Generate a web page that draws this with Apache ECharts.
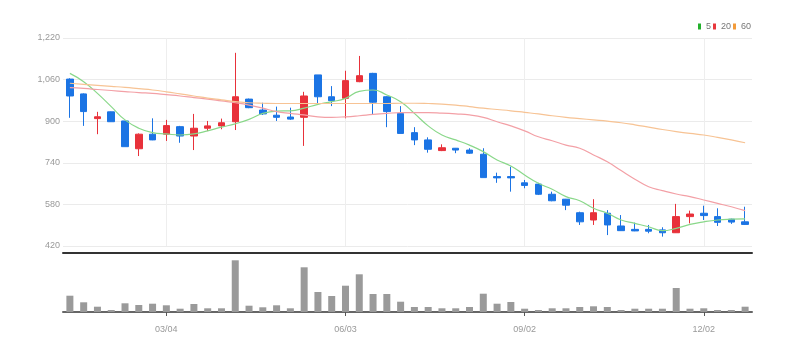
<!DOCTYPE html>
<html>
<head>
<meta charset="utf-8">
<script src="https://cdn.jsdelivr.net/npm/echarts@6/dist/echarts.min.js"></script>
<style>
  html, body { margin: 0; padding: 0; background: #fff; }
  #chart { width: 797px; height: 351px; }
</style>
</head>
<body>
<div id="chart"></div>
<script>
// 주간 시세 (2024-01-15 ~ 2024-12-23)
var weeks = ['01/15','01/22','01/29','02/05','02/12','02/19','02/26','03/04','03/11','03/18',
             '03/25','04/01','04/08','04/15','04/22','04/29','05/06','05/13','05/20','05/27',
             '06/03','06/10','06/17','06/24','07/01','07/08','07/15','07/22','07/29','08/05',
             '08/12','08/19','08/26','09/02','09/09','09/16','09/23','09/30','10/07','10/14',
             '10/21','10/28','11/04','11/11','11/18','11/25','12/02','12/09','12/16','12/23'];

var openPrice  = [1062,1005,910,936,901,794,850,850,879,843, 873,882,898,985,943,923,916,915,1078,994,
                  988,1052,1084,994,930,856,828,787,796,789, 773,687,687,663,658,619,600,548,520,546,
                  497,484,484,482,471,533,546,533,523,513];
var closePrice = [997,937,917,898,802,850,828,883,843,873, 882,894,994,952,928,915,908,997,994,979,
                  1056,1075,973,937,853,828,792,798,789,777, 683,682,682,653,619,594,577,513,548,501,
                  479,478,477,471,533,543,537,511,512,503];
var lowPrice   = [913,882,850,897,802,766,827,824,817,789, 862,869,866,950,924,901,905,805,969,958,
                  911,1050,924,877,853,808,779,785,777,774, 683,663,629,642,616,592,558,501,501,462,
                  478,477,469,456,470,507,520,497,505,501];
var highPrice  = [1065,1007,936,937,901,853,911,905,882,928, 901,910,1163,987,971,956,952,1013,1078,1035,
                  1094,1151,1086,996,958,877,838,811,797,796, 796,702,725,674,663,629,601,552,600,558,
                  539,510,501,492,582,556,575,565,525,571];

var volume = [326,194,106,40,174,140,166,134,66,160, 74,74,1034,126,94,134,74,894,400,320,
              526,754,360,360,206,100,100,74,74,100, 366,166,200,66,40,74,74,100,114,100,
              40,66,66,66,480,66,74,40,40,106];

// 이동평균
var ma5  = [1084,1052,1007,956,905,873,856,851,847,851, 863,877,890,907,930,939,940,950,965,975,
            988,1015,1020,1001,975,930,882,847,828,808, 783,751,728,693,661,638,610,594,565,546,
            520,507,494,479,488,503,513,520,523,524];
var ma20 = [1029,1026,1022,1018,1014,1010,1007,1002,997,991, 985,978,971,962,950,937,930,924,917,915,
            917,921,926,930,933,933,933,931,928,924, 915,898,882,863,840,825,808,796,770,744,
            710,677,648,633,620,610,597,584,571,556];
var ma60 = [1046,1042,1038,1034,1030,1025,1020,1013,1005,997, 989,982,975,971,969,968,968,968,968,968,
            968,968,968,968,969,969,968,966,962,956, 950,945,940,934,928,921,915,910,905,900,
            894,886,877,868,860,853,847,838,828,817];

var yTicks = [420, 580, 740, 900, 1060, 1220];
var labelWeeks = ['03/04','06/03','09/02','12/02'];

var candleData = weeks.map(function (w, i) {
    return [openPrice[i], closePrice[i], lowPrice[i], highPrice[i]];
});

var isLabel = function (idx, val) {
    return labelWeeks.indexOf(weeks[idx]) >= 0;
};

var font = "'Liberation Sans Narrow', 'Liberation Sans', sans-serif";

var myChart = echarts.init(document.getElementById('chart'));

myChart.setOption({
    animation: false,
    textStyle: { fontFamily: font },
    legend: {
        right: 41,
        top: 17,
        icon: 'rect',
        itemWidth: 3,
        itemHeight: 6,
        itemGap: 2,
        textStyle: { fontSize: 9, color: '#777', fontFamily: font },
        data: [
            { name: '5',  itemStyle: { color: '#22b02b', opacity: 1 } },
            { name: '20', itemStyle: { color: '#e8383d', opacity: 1 } },
            { name: '60', itemStyle: { color: '#f39b3a', opacity: 1 } }
        ]
    },
    grid: [
        { left: 63, right: 45, top: 38, height: 208 },
        { left: 63, right: 45, top: 253, height: 59 }
    ],
    xAxis: [
        {
            type: 'category',
            gridIndex: 0,
            data: weeks,
            boundaryGap: true,
            offset: 7,
            axisLine: { lineStyle: { color: '#333', width: 2 } },
            axisTick: { show: false, alignWithLabel: true },
            axisLabel: { show: false },
            splitLine: { show: true, interval: isLabel, alignWithLabel: true, lineStyle: { color: '#eee' } }
        },
        {
            type: 'category',
            gridIndex: 1,
            data: weeks,
            boundaryGap: true,
            axisLine: { lineStyle: { color: '#666', width: 2 } },
            axisTick: { show: true, interval: isLabel, alignWithLabel: true, length: 4, lineStyle: { color: '#555' } },
            axisLabel: { interval: isLabel, color: '#999', fontSize: 9, margin: 13, fontFamily: font },
            splitLine: { show: false }
        }
    ],
    yAxis: [
        {
            type: 'value',
            gridIndex: 0,
            min: yTicks[0],
            max: yTicks[yTicks.length - 1],
            interval: 160,
            axisLine: { show: false },
            axisTick: { show: false },
            axisLabel: {
                color: '#999',
                fontSize: 9,
                margin: 3,
                fontFamily: font,
                formatter: function (v) {
                    return String(v).replace(/\B(?=(\d{3})+(?!\d))/g, ',');
                }
            },
            splitLine: { lineStyle: { color: '#ebebeb' } }
        },
        {
            type: 'value',
            gridIndex: 1,
            min: 0,
            max: 1180,
            show: false,
            splitLine: { show: false }
        }
    ],
    series: [
        {
            name: 'price',
            type: 'candlestick',
            data: candleData,
            barWidth: 7,
            itemStyle: {
                color: '#e8313a',
                color0: '#1b74e4',
                borderColor: '#e8313a',
                borderColor0: '#1b74e4',
                borderColorDoji: '#1b74e4',
                borderWidth: 1
            }
        },
        {
            name: '5',
            type: 'line',
            data: ma5,
            smooth: true,
            showSymbol: false,
            color: '#22b02b',
            lineStyle: { width: 1.2, color: '#8ad88a' },
            z: 3
        },
        {
            name: '20',
            type: 'line',
            data: ma20,
            smooth: true,
            showSymbol: false,
            color: '#e8383d',
            lineStyle: { width: 1.2, color: '#f3a0a6' },
            z: 3
        },
        {
            name: '60',
            type: 'line',
            data: ma60,
            smooth: true,
            showSymbol: false,
            color: '#f39b3a',
            lineStyle: { width: 1.2, color: '#f7c394' },
            z: 3
        },
        {
            name: 'volume',
            type: 'bar',
            xAxisIndex: 1,
            yAxisIndex: 1,
            data: volume,
            barWidth: 7,
            itemStyle: { color: '#9a9a9a' }
        }
    ]
});
</script>
</body>
</html>
